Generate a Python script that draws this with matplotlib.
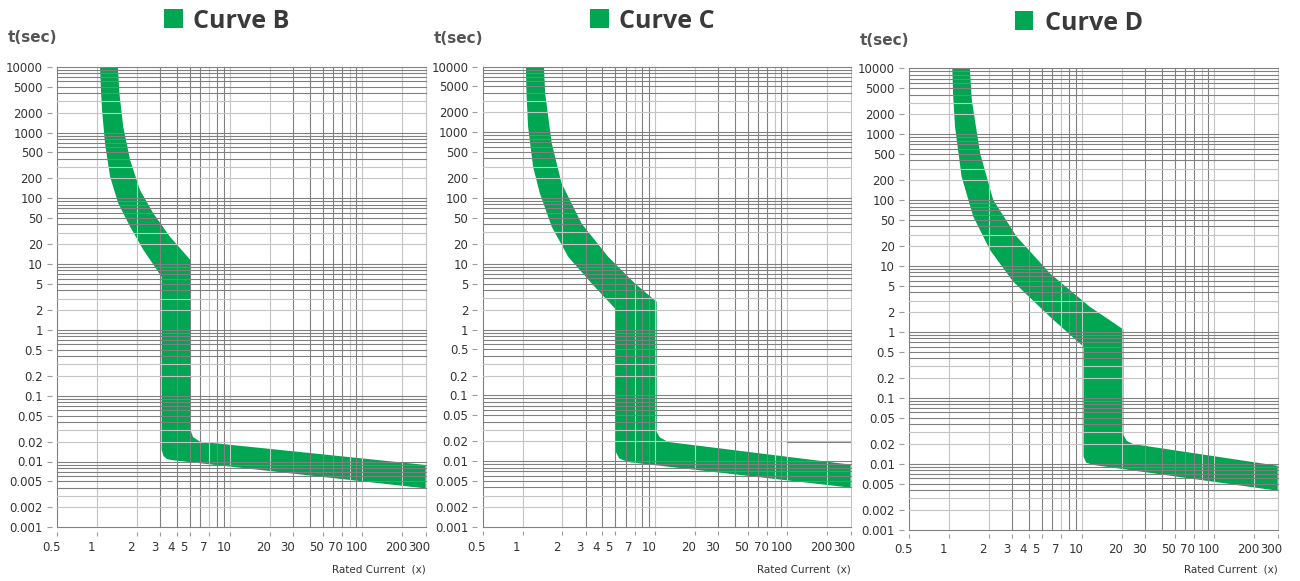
import matplotlib
matplotlib.use('Agg')
import matplotlib.pyplot as plt
from matplotlib.patches import Rectangle
from matplotlib.ticker import NullLocator
from matplotlib.transforms import ScaledTranslation

W, H = 1300, 581
GREEN = '#00a651'

# axis ticks and labels
x_ticks = [0.5, 1, 2, 3, 4, 5, 7, 10, 20, 30, 50, 70, 100, 200, 300]
x_labels = ['0.5', '1', '2', '3', '4', '5', '7', '10', '20', '30', '50', '70', '100', '200', '300']
y_ticks = [10000, 5000, 2000, 1000, 500, 200, 100, 50, 20, 10, 5, 2, 1,
           0.5, 0.2, 0.1, 0.05, 0.02, 0.01, 0.005, 0.002, 0.001]
y_labels = ['10000', '5000', '2000', '1000', '500', '200', '100', '50', '20', '10', '5', '2', '1',
            '0.5', '0.2', '0.1', '0.05', '0.02', '0.01', '0.005', '0.002', '0.001']

# grid lines (light ones drawn paler)
x_grid = [0.5, 1, 2, 3, 4, 5, 6, 7, 8, 9, 10, 20, 30, 40, 50, 60, 70, 80, 90, 100, 200, 300]
x_grid_light = [1, 2, 7, 10, 20, 80, 100, 200, 300]
y_decades = [0.001, 0.01, 0.1, 1, 10, 100, 1000]
y_mult = [1, 2, 3, 4, 5, 6, 7, 8, 9]
y_mult_light = [2, 3]

titles = ['Curve B', 'Curve C', 'Curve D']

# band edges: lo = earliest trip (left/lower), hi = latest trip (right/upper)
B_lo_I = [1.05, 1.07, 1.087, 1.145, 1.25, 1.44, 1.77, 2.23, 3.06, 3.06, 3.16, 3.36, 3.65, 300]
B_lo_T = [10000, 3944, 2200, 686, 213, 84, 37, 16.4, 6.4, 0.015, 0.0121, 0.0109, 0.0105, 0.0039]
B_hi_I = [1.43, 1.47, 1.57, 1.77, 2.10, 2.65, 3.54, 5.05, 5.05, 5.28, 5.96, 300]
B_hi_T = [10000, 3944, 1225, 382, 134, 59, 26, 11.5, 0.030, 0.0236, 0.020, 0.00885]

C_lo_I = [1.06, 1.07, 1.10, 1.20, 1.35, 1.66, 2.21, 3.32, 5.06, 5.06, 5.37, 6.27, 300]
C_lo_T = [10000, 4000, 1222, 300, 118, 36.7, 12.8, 5.04, 2.03, 0.0138, 0.011, 0.0097, 0.00396]
C_hi_I = [1.45, 1.48, 1.66, 1.97, 2.79, 4.43, 7.05, 10.3, 10.3, 10.9, 12.6, 300]
C_hi_T = [10000, 3936, 682, 168, 41, 12.8, 5.04, 2.65, 0.0278, 0.0229, 0.0196, 0.00887]

D_lo_I = [1.055, 1.07, 1.106, 1.24, 1.52, 2.03, 3.04, 5.75, 10.3, 10.3, 10.8, 12.2, 300]
D_lo_T = [10000, 4000, 1300, 226, 56, 17.5, 5.78, 1.70, 0.596, 0.0128, 0.0104, 0.0096, 0.0039]
D_hi_I = [1.43, 1.48, 1.71, 2.15, 3.23, 5.75, 11.5, 20.6, 20.6, 21.8, 24.4, 300]
D_hi_T = [10000, 3305, 513, 100, 27.9, 7.74, 2.41, 1.09, 0.0273, 0.0223, 0.0199, 0.00933]

bands = [(B_lo_I, B_lo_T, B_hi_I, B_hi_T),
         (C_lo_I, C_lo_T, C_hi_I, C_hi_T),
         (D_lo_I, D_lo_T, D_hi_I, D_hi_T)]

# panel boxes in pixels: left, right, top, bottom
boxes = [(57.3, 425.7, 66.7, 527.3),
         (482.7, 850.7, 66.5, 527.0),
         (909.3, 1277.7, 68.3, 529.7)]
# title square (x, y, w, h), title text x, baseline, t(sec) x, baseline
heads = [((164, 9.3, 19, 18.4), 193, 28.3, 8, 42),
         ((590, 9.0, 19, 18.6), 619, 28.0, 434, 43),
         ((1015, 11.0, 18, 18.8), 1045, 30.0, 860, 45)]

DARK = '#808080'
LIGHT = '#c4c4c4'

fig = plt.figure(figsize=(W / 100, H / 100), dpi=100)
fig.patch.set_facecolor('white')

for i in range(3):
    L, R, T, B = boxes[i]
    ax = fig.add_axes([L / W, 1 - B / H, (R - L) / W, (B - T) / H])
    ax.set_xscale('log')
    ax.set_yscale('log')
    ax.set_xlim(0.5, 300)
    ax.set_ylim(0.001, 10000)

    lo_I, lo_T, hi_I, hi_T = bands[i]
    ax.fill(lo_I + hi_I[::-1], lo_T + hi_T[::-1], color=GREEN, lw=0, zorder=2)

    # grid on top of the band
    for v in x_grid:
        c = LIGHT if v in x_grid_light else DARK
        ax.axvline(v, color=c, lw=0.8, zorder=3, clip_on=False)
    for d in y_decades:
        for m in y_mult:
            c = LIGHT if m in y_mult_light else DARK
            ax.axhline(d * m, color=c, lw=0.8, zorder=3, clip_on=False)
    ax.axhline(10000, color=DARK, lw=0.8, zorder=3, clip_on=False)
    if i == 1:
        ax.plot([100, 300], [0.0196, 0.0196], color=DARK, lw=0.8, zorder=3)

    for s in ax.spines.values():
        s.set_visible(False)
    ax.spines['left'].set_position(('outward', 4))
    ax.spines['bottom'].set_position(('outward', 3.2))

    ax.set_xticks(x_ticks)
    ax.set_xticklabels(x_labels)
    ax.set_yticks(y_ticks)
    ax.set_yticklabels(y_labels)
    ax.xaxis.set_minor_locator(NullLocator())
    ax.yaxis.set_minor_locator(NullLocator())
    ax.tick_params(axis='both', colors='#9a9a9a', width=0.8, labelsize=8.5,
                   labelcolor='#333333')
    ax.tick_params(axis='y', length=3.6, pad=2.8)
    ax.tick_params(axis='x', length=3.1, pad=3.5)
    off = ScaledTranslation(-6 / 100, 0, fig.dpi_scale_trans)
    for lab in ax.get_xticklabels():
        lab.set_transform(lab.get_transform() + off)

    ax.text(1.0, -(572 - B) / (B - T), 'Rated Current  (x)', transform=ax.transAxes,
            ha='right', va='baseline', fontsize=7.5, color='#333333')

    (sx, sy, sw, sh), tx, tb, lx, lb = heads[i]
    fig.add_artist(Rectangle((sx / W, 1 - (sy + sh) / H), sw / W, sh / H,
                             transform=fig.transFigure, color=GREEN, lw=0))
    fig.text(tx / W, 1 - tb / H, titles[i], fontsize=18, fontweight='bold',
             family=['Open Sans', 'DejaVu Sans'], color='#3a3a3a', va='baseline')
    fig.text(lx / W, 1 - lb / H, 't(sec)', fontsize=11, fontweight='bold',
             color='#555555', va='baseline')

fig.savefig('out.png', dpi=100, facecolor='white')
